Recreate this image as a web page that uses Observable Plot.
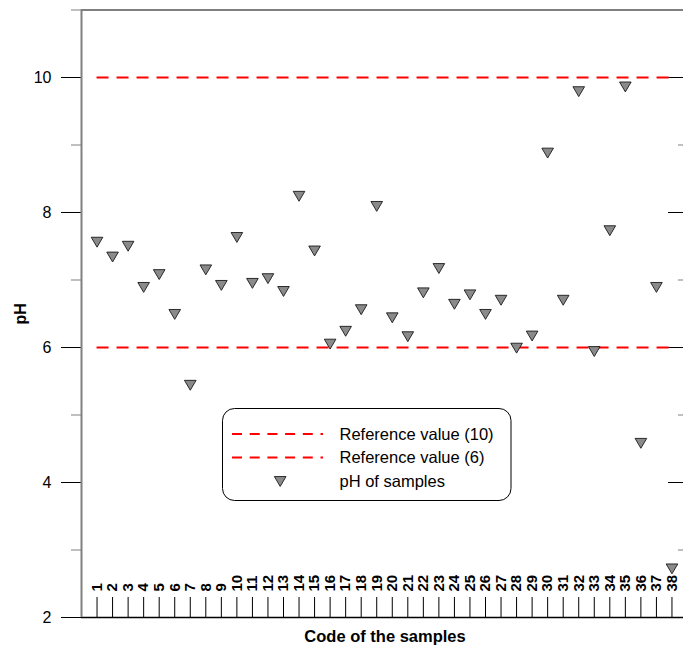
<!DOCTYPE html>
<html>
<head>
<meta charset="utf-8">
<script src="https://cdn.jsdelivr.net/npm/d3@7"></script>
<script src="https://cdn.jsdelivr.net/npm/@observablehq/plot@0.6"></script>
<style>
  body { margin: 0; background: #fff; font-family: "Liberation Sans", Arial, sans-serif; }
  #chart { position: relative; width: 683px; height: 646px; }
</style>
</head>
<body>
<div id="chart"></div>
<script>
// ---- data ----
const codes = [1,2,3,4,5,6,7,8,9,10,11,12,13,14,15,16,17,18,19,20,21,22,23,24,25,26,27,28,29,30,31,32,33,34,35,36,37,38];
const phValues = [7.56,7.34,7.50,6.89,7.08,6.49,5.44,7.15,6.92,7.63,6.95,7.02,6.83,8.24,7.43,6.05,6.24,6.56,8.09,
                  6.44,6.16,6.81,7.17,6.64,6.78,6.49,6.70,5.99,6.17,8.88,6.70,9.79,5.94,7.73,9.86,4.58,6.89,2.72];
const refHigh = 10;
const refLow = 6;
const yMajorTicks = [2,4,6,8,10];
const yMinorTicks = [3,5,7,9,11];
const legendLabels = ["Reference value (10)", "Reference value (6)", "pH of samples"];
const xTitle = "Code of the samples";
const yTitle = "pH";

const samples = codes.map((c, i) => ({code: c, ph: phValues[i]}));

// downward-pointing triangle centred on its bounding box
const downTriangle = {
  draw(ctx, size) {
    const h = Math.sqrt(size / Math.PI);
    ctx.moveTo(-1.35 * h, -1.15 * h);
    ctx.lineTo(1.35 * h, -1.15 * h);
    ctx.lineTo(0, 1.15 * h);
    ctx.closePath();
  }
};

const font = "'Liberation Sans', Arial, sans-serif";

const chart = Plot.plot({
  width: 683,
  height: 646,
  marginLeft: 81,
  marginRight: 0,
  marginTop: 9.5,
  marginBottom: 29,
  style: {fontFamily: font, background: "white", color: "black"},
  x: {domain: [0, 39], range: [81, 687], axis: null},
  y: {domain: [2, 11], range: [617, 9.5], axis: null},
  marks: [
    // frame
    Plot.ruleY([11], {stroke: "black", strokeWidth: 1}),
    Plot.ruleY([2], {stroke: "black", strokeWidth: 1.3}),
    // left axis
    Plot.axisY(yMajorTicks, {anchor: "left", tickSize: 20, tickPadding: 10, fontSize: 16, label: null, stroke: "black", tickFormat: d => String(d)}),
    Plot.axisY(yMinorTicks, {anchor: "left", tickSize: 10, tickFormat: () => "", label: null, stroke: "#808080"}),
    // right axis (ticks inward)
    Plot.axisY(yMajorTicks, {anchor: "right", tickSize: -16, tickPadding: 0, tickFormat: () => "", label: null, stroke: "black"}),
    Plot.axisY(yMinorTicks, {anchor: "right", tickSize: -6, tickPadding: 0, tickFormat: () => "", label: null, stroke: "#808080"}),
    Plot.ruleX([0], {stroke: "#808080", strokeWidth: 2}),
    // bottom axis: inward ticks and rotated labels
    Plot.axisX(codes, {
      anchor: "bottom", tickSize: -20, tickPadding: -6, tickRotate: -90,
      textAnchor: "start", lineAnchor: "middle",
      fontSize: 15, fontWeight: "bold", label: null, stroke: "black", tickFormat: d => String(d)
    }),
    // reference lines
    Plot.ruleY([refHigh, refLow], {
      x1: codes[0], x2: codes[codes.length - 1],
      stroke: "#ff0000", strokeWidth: 2, strokeDasharray: "12,8"
    }),
    // samples
    Plot.dot(samples, {
      x: "code", y: "ph", symbol: downTriangle, r: 4.3,
      fill: "#8a8a8a", stroke: "#1a1a1a", strokeWidth: 0.9
    }),
    // axis titles
    Plot.text([yTitle], {frameAnchor: "left", dx: -61, rotate: -90, fontWeight: "bold", fontSize: 16, lineAnchor: "middle", textAnchor: "middle"}),
    Plot.text([xTitle], {frameAnchor: "bottom", dx: 2.5, dy: 19, fontWeight: "bold", fontSize: 16.5, lineAnchor: "middle"})
  ]
});

document.getElementById("chart").appendChild(chart);

// ---- legend inside the plot area ----
const svg = d3.select(chart);
const lg = svg.append("g");
lg.append("rect")
  .attr("x", 222.5).attr("y", 408.5).attr("width", 288.5).attr("height", 92)
  .attr("rx", 12).attr("ry", 12)
  .attr("fill", "white").attr("stroke", "black").attr("stroke-width", 1);
const rowY = [434, 457.5, 481.5];
[0, 1].forEach(i => {
  lg.append("line")
    .attr("x1", 232).attr("x2", 323).attr("y1", rowY[i]).attr("y2", rowY[i])
    .attr("stroke", "#ff0000").attr("stroke-width", 2).attr("stroke-dasharray", "10,7.7");
});
lg.append("path")
  .attr("transform", `translate(280.2,${rowY[2]})`)
  .attr("d", d3.symbol(downTriangle, 4.3 * 4.3 * Math.PI)())
  .attr("fill", "#8a8a8a").attr("stroke", "#1a1a1a").attr("stroke-width", 0.9);
legendLabels.forEach((t, i) => {
  lg.append("text")
    .attr("x", 339.5).attr("y", rowY[i]).attr("dy", "0.34em")
    .style("font-family", font).style("font-size", "16.5px").style("text-anchor", "start")
    .attr("fill", "black").text(t);
});
</script>
</body>
</html>
